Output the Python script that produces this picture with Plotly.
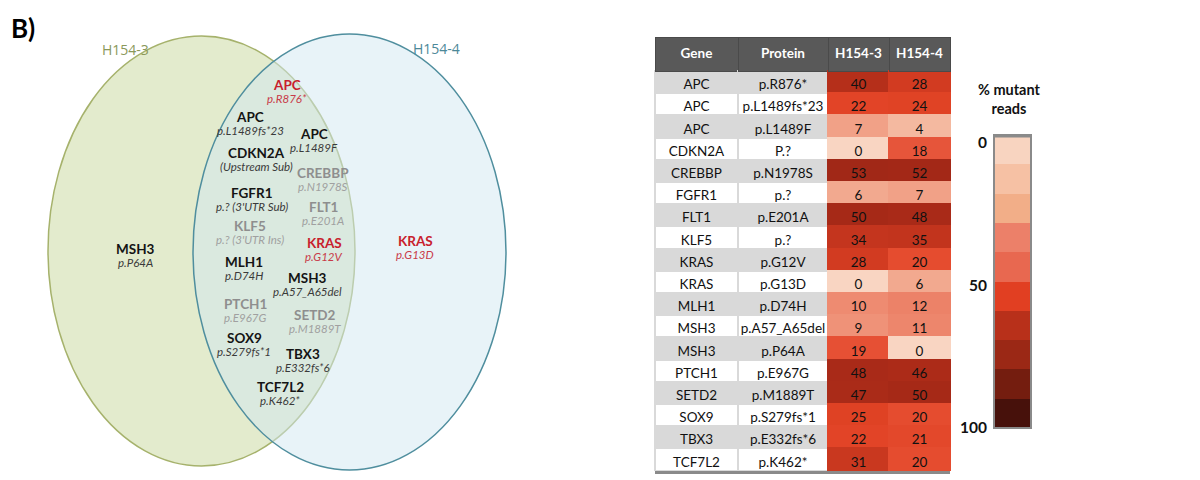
import plotly.graph_objects as go
from plotly.colors import sample_colorscale

# ---- table data: % mutant reads per variant ----
genes = ["APC", "APC", "APC", "CDKN2A", "CREBBP", "FGFR1", "FLT1", "KLF5", "KRAS",
         "KRAS", "MLH1", "MSH3", "MSH3", "PTCH1", "SETD2", "SOX9", "TBX3", "TCF7L2"]
proteins = ["p.R876*", "p.L1489fs*23", "p.L1489F", "P.?", "p.N1978S", "p.?", "p.E201A",
            "p.?", "p.G12V", "p.G13D", "p.D74H", "p.A57_A65del", "p.P64A", "p.E967G",
            "p.M1889T", "p.S279fs*1", "p.E332fs*6", "p.K462*"]
h154_3 = [40, 22, 7, 0, 53, 6, 50, 34, 28, 0, 10, 9, 19, 48, 47, 25, 22, 31]
h154_4 = [28, 24, 4, 18, 52, 7, 48, 35, 20, 6, 12, 11, 0, 46, 50, 20, 21, 20]
headers = ["Gene", "Protein", "H154-3", "H154-4"]

# ---- Venn diagram contents ----
sets = ["H154-3", "H154-4"]
venn_shared_genes = ["APC", "APC", "APC", "CDKN2A", "CREBBP", "FGFR1", "FLT1", "KLF5", "KRAS",
                     "MLH1", "MSH3", "PTCH1", "SETD2", "SOX9", "TBX3", "TCF7L2"]
venn_shared_changes = ["p.R876*", "p.L1489fs*23", "p.L1489F", "(Upstream Sub)", "p.N1978S",
                       "p.? (3'UTR Sub)", "p.E201A", "p.? (3'UTR Ins)", "p.G12V", "p.D74H",
                       "p.A57_A65del", "p.E967G", "p.M1889T", "p.S279fs*1", "p.E332fs*6", "p.K462*"]
venn_shared_kind = ["driver", "std", "std", "std", "low", "std", "low", "low", "driver",
                    "std", "std", "low", "low", "std", "std", "std"]
venn_only3_genes = ["MSH3"]
venn_only3_changes = ["p.P64A"]
venn_only3_kind = ["std"]
venn_only4_genes = ["KRAS"]
venn_only4_changes = ["p.G13D"]
venn_only4_kind = ["driver"]

# ---- colour key ----
key_ticks = [0, 50, 100]
key_tick_labels = ["0", "50", "100"]
key_colors = ["#f8d4c0", "#f6c1a4", "#f2ae88", "#ec8069", "#e86850",
              "#e13f22", "#b8301a", "#9b2815", "#741d0f", "#47110b"]

# heat scale used to shade the mutant-read cells (value range 0..55)
heat_max = 55.0
heat_anchors = [(0, "#f9d5c2"), (4, "#f4b9a0"), (7, "#f1a187"), (10, "#ee8b71"),
                (12, "#ec8268"), (18, "#e6553a"), (20, "#e54c2f"), (22, "#e24427"),
                (25, "#df4224"), (28, "#d23b21"), (31, "#c9381f"), (35, "#c2341d"),
                (40, "#b52f1a"), (48, "#a92a18"), (55, "#9e2716")]
heat_scale = [[v / heat_max, c] for v, c in heat_anchors]


def shade(values):
    return sample_colorscale(heat_scale, [v / heat_max for v in values])


W, H = 1200, 480
fig = go.Figure()

# ---------- table ----------
n = len(genes)
zebra = ["#d9d9d9" if i % 2 == 0 else "#ffffff" for i in range(n)]
fill3 = shade(h154_3)
fill4 = shade(h154_4)
tab_x0, tab_x1, tab_y0, tab_y1 = 655, 950, 37, 472
fig.add_trace(go.Table(
    domain=dict(x=[tab_x0 / W, tab_x1 / W], y=[1 - tab_y1 / H, 1 - tab_y0 / H]),
    columnwidth=[83, 90, 61, 61],
    header=dict(
        values=[f"<b>{h}</b>" for h in headers],
        fill_color="#595959",
        line=dict(color="#4a4a4a", width=1),
        font=dict(family="Lato", size=13.5, color="white"),
        align="center", height=34,
    ),
    cells=dict(
        values=[genes, proteins, h154_3, h154_4],
        fill_color=[zebra, zebra, fill3, fill4],
        line=dict(color=[["#d9d9d9"] * n, ["#d9d9d9"] * n, fill3, fill4], width=2),
        font=dict(family="Lato", size=13.5, color="#111111"),
        align="center", height=22.2,
    ),
))

# ---------- canvas axes in pixel units ----------
fig.update_layout(
    xaxis=dict(range=[0, W], domain=[0, 1], visible=False, fixedrange=True),
    yaxis=dict(range=[H, 0], domain=[0, 1], visible=False, fixedrange=True),
)

# colour key as a one-column heatmap
k_x0, k_x1, k_y0, k_y1 = 994, 1031, 135, 428
nk = len(key_colors)
edges = [k_y0 + (k_y1 - k_y0) * i / nk for i in range(nk + 1)]
disc_scale = []
for i, c in enumerate(key_colors):
    disc_scale += [[i / nk, c], [(i + 1) / nk, c]]
fig.add_trace(go.Heatmap(
    x=[k_x0, k_x1], y=edges, z=[[i] for i in range(nk)],
    zmin=0, zmax=nk, colorscale=disc_scale, showscale=False, hoverinfo="skip",
))

shapes = []
# Venn ellipses
shapes.append(dict(type="circle", xref="x", yref="y", x0=48, x1=355, y0=36, y1=466,
                   fillcolor="#e3ebcd", line=dict(color="#a6b26c", width=1.5), layer="below"))
shapes.append(dict(type="circle", xref="x", yref="y", x0=193, x1=506, y0=34, y1=470,
                   fillcolor="rgba(210,232,241,0.5)", line=dict(color="#4f8e9e", width=1.5),
                   layer="below"))
# key frame
shapes.append(dict(type="rect", xref="x", yref="y", x0=k_x0, x1=k_x1, y0=k_y0, y1=k_y1,
                   line=dict(color="#8a8a8a", width=2), fillcolor="rgba(0,0,0,0)"))
shapes.append(dict(type="line", xref="x", yref="y", x0=k_x0, x1=k_x1, y0=k_y0 + 1, y1=k_y0 + 1,
                   line=dict(color="#8a8a8a", width=3)))
# table bottom rule
shapes.append(dict(type="line", xref="x", yref="y", x0=tab_x0, x1=tab_x1, y0=472.5, y1=472.5,
                   line=dict(color="#8a8a8a", width=3)))
fig.update_layout(shapes=shapes)

ann = []
ann.append(dict(x=9, y=28, text="<b>B)</b>", showarrow=False, xanchor="left",
                font=dict(family="Lato", size=26, color="#000")))
ann.append(dict(x=125, y=49, text=sets[0], showarrow=False,
                font=dict(family="Open Sans", size=14, color="#8a985a")))
ann.append(dict(x=436, y=48, text=sets[1], showarrow=False,
                font=dict(family="Open Sans", size=14, color="#4c8898")))

gene_col = {"driver": "#c8202c", "std": "#141414", "low": "#8e8e8e"}
sub_col = {"driver": "#c83a48", "std": "#3a3a3a", "low": "#a0a0a0"}

shared_pos = [(287, 85), (250, 117), (314, 134), (256, 153), (323, 173), (252, 193),
              (323, 207), (250, 226), (324, 243), (244, 262), (307, 278), (245, 304),
              (315, 315), (244, 338), (303, 354), (280, 387)]
only3_pos = [(135, 249)]
only4_pos = [(415, 241)]


def venn_label(g, ch, kind, x, y):
    ann.append(dict(x=x, y=y, text=f"<b>{g}</b>", showarrow=False,
                    font=dict(family="Lato", size=13.5, color=gene_col[kind])))
    ann.append(dict(x=x, y=y + 13, text=f"<i>{ch}</i>", showarrow=False,
                    font=dict(family="Lato", size=11.5, color=sub_col[kind])))


for g, ch, k, (x, y) in zip(venn_shared_genes, venn_shared_changes, venn_shared_kind, shared_pos):
    venn_label(g, ch, k, x, y)
for g, ch, k, (x, y) in zip(venn_only3_genes, venn_only3_changes, venn_only3_kind, only3_pos):
    venn_label(g, ch, k, x, y)
for g, ch, k, (x, y) in zip(venn_only4_genes, venn_only4_changes, venn_only4_kind, only4_pos):
    venn_label(g, ch, k, x, y)

# key title and tick labels
ann.append(dict(x=1009, y=99, text="<b>% mutant<br>reads</b>", showarrow=False,
                font=dict(family="Lato", size=14.5, color="#111")))
for t, lab in zip(key_ticks, key_tick_labels):
    yy = 142 + 2.85 * t
    ann.append(dict(x=989, y=yy, text=f"<b>{lab}</b>", showarrow=False, xanchor="right",
                    font=dict(family="Lato", size=15.5, color="#111")))

for a in ann:
    a.setdefault("xref", "x")
    a.setdefault("yref", "y")
fig.update_layout(annotations=ann)

fig.update_layout(width=W, height=H, margin=dict(l=0, r=0, t=0, b=0),
                  paper_bgcolor="white", plot_bgcolor="rgba(0,0,0,0)", showlegend=False)
fig.write_html("out.html")
